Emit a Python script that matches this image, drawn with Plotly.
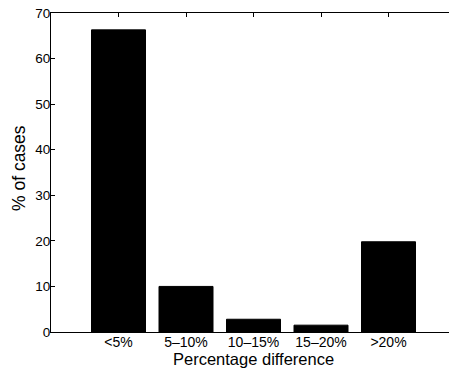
import plotly.graph_objects as go

categories = ["<5%", "5\u201310%", "10\u201315%", "15\u201320%", ">20%"]
positions = [1, 2, 3, 4, 5]
values = [66.3, 10.0, 2.8, 1.5, 19.8]
y_ticks = [0, 10, 20, 30, 40, 50, 60, 70]

FONT = "Liberation Sans, Arial, Helvetica, sans-serif"

W, H = 449, 369
PLOT_L, PLOT_T, PLOT_B = 51, 13, 332
PLOT_W = W - PLOT_L
PLOT_H = PLOT_B - PLOT_T
PX_PER_UNIT = 67.5  # x axis in the original spans 0..6 and runs past the right edge

fig = go.Figure()
fig.add_trace(go.Bar(
    x=positions, y=values, width=0.8,
    marker=dict(color="black", line=dict(color="black", width=1)),
))

fig.update_layout(
    width=W, height=H,
    margin=dict(l=PLOT_L, r=0, t=PLOT_T, b=H - PLOT_B),
    paper_bgcolor="white", plot_bgcolor="white",
    showlegend=False,
    bargap=0,
    font=dict(family=FONT, size=13, color="black"),
    annotations=[
        dict(text="Percentage difference", xref="paper", yref="paper",
             x=(253 - PLOT_L) / PLOT_W, y=-(359 - PLOT_B) / PLOT_H,
             xanchor="center", yanchor="middle",
             showarrow=False, font=dict(size=16.5)),
        dict(text="% of cases", xref="paper", yref="paper",
             x=-(PLOT_L - 19) / PLOT_W, y=(PLOT_B - 168) / PLOT_H,
             xanchor="center", yanchor="middle",
             textangle=-90, showarrow=False, font=dict(size=17.5)),
    ],
)
fig.update_xaxes(
    range=[0, PLOT_W / PX_PER_UNIT],
    tickmode="array", tickvals=positions, ticktext=categories,
    ticks="inside", ticklen=4, tickcolor="black", tickwidth=1,
    showline=True, linecolor="black", linewidth=1, mirror="ticks",
    showgrid=False, zeroline=False, automargin=False,
    tickfont=dict(size=14), ticklabelstandoff=-3,
)
fig.update_yaxes(
    range=[0, 70],
    tickmode="array", tickvals=y_ticks,
    ticks="inside", ticklen=4, tickcolor="black", tickwidth=1,
    showline=True, linecolor="black", linewidth=1, mirror=False,
    showgrid=False, zeroline=False, automargin=False,
    tickfont=dict(size=13.5), ticklabelstandoff=-3,
)

fig.write_html(
    "out.html",
    config={"displayModeBar": False, "staticPlot": True},
    post_script="document.body.style.margin='0';document.body.style.overflow='hidden';",
)
